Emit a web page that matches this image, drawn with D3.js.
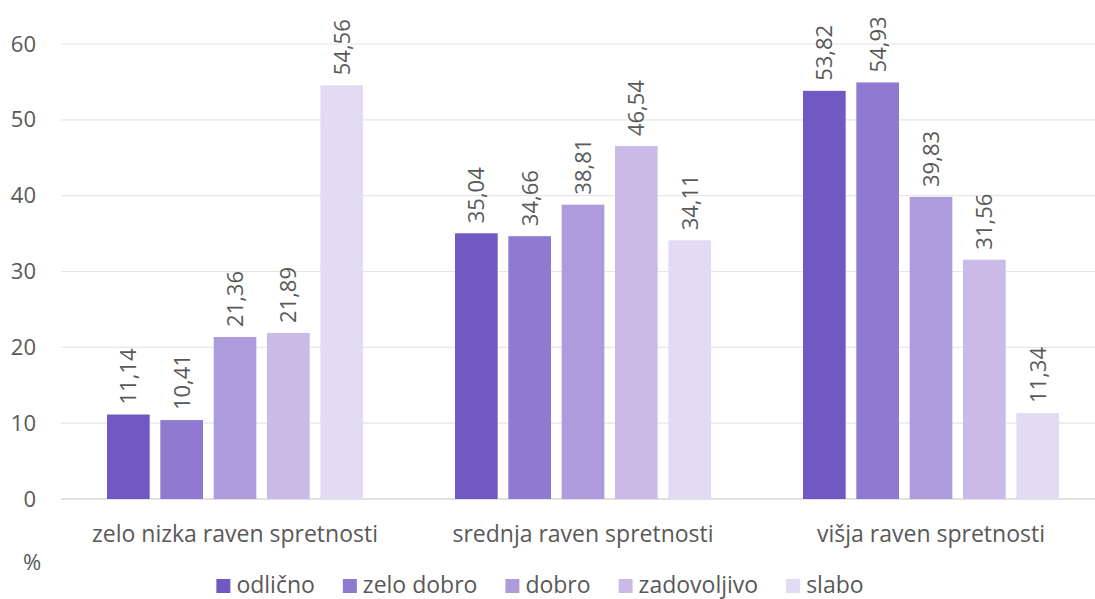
<!DOCTYPE html>
<html><head><meta charset="utf-8">
<script src="https://cdn.jsdelivr.net/npm/d3@7"></script>
<style>body{margin:0;background:#fff;} text{font-family:"Open Sans",sans-serif;}</style>
</head><body><svg id="c" width="1095" height="599"></svg>
<script>
const categories = ["zelo nizka raven spretnosti","srednja raven spretnosti","višja raven spretnosti"];
const seriesNames = ["odlično","zelo dobro","dobro","zadovoljivo","slabo"];
const odlicno = [11.14, 35.04, 53.82];
const zeloDobro = [10.41, 34.66, 54.93];
const dobro = [21.36, 38.81, 39.83];
const zadovoljivo = [21.89, 46.54, 31.56];
const slabo = [54.56, 34.11, 11.34];
const seriesValues = [odlicno, zeloDobro, dobro, zadovoljivo, slabo];
const yTicks = [0,10,20,30,40,50,60];
const colors = ["#7159c3","#9079d1","#ae9bdc","#cbbae8","#e3dbf3"];
const FS = 23, TXT = "#595959";

const svg = d3.select("#c");
const x0 = d3.scaleBand().domain(categories).range([61,1105]).paddingInner(0).paddingOuter(0);
const x1 = d3.scaleBand().domain(seriesNames).range([46, x0.bandwidth()-46]).paddingInner(0.2).paddingOuter(0);
const y = d3.scaleLinear().domain([0,60]).range([499,44]);

// gridlines
svg.append("g").selectAll("line").data(yTicks).join("line")
  .attr("x1",61).attr("x2",1095).attr("y1",d=>y(d)).attr("y2",d=>y(d))
  .attr("stroke",d=>d===0?"#d9d9d9":"#e6e6e6").attr("stroke-width",d=>d===0?1.5:1.2);

// y axis labels
const yAxis = d3.axisLeft(y).tickValues(yTicks).tickSize(0).tickPadding(0);
const ga = svg.append("g").attr("transform","translate(36,0)").call(yAxis);
ga.select(".domain").remove();
ga.selectAll("text").attr("font-size",22).attr("fill",TXT).attr("font-family","Open Sans, sans-serif").attr("text-anchor","end");

// bars
const groups = svg.append("g").selectAll("g").data(categories).join("g")
  .attr("transform",d=>`translate(${x0(d)},0)`);
groups.each(function(cat,ci){
  const g = d3.select(this);
  seriesNames.forEach((s,si)=>{
    const v = seriesValues[si][ci];
    g.append("rect").attr("x",x1(s)).attr("width",x1.bandwidth())
      .attr("y",y(v)).attr("height",y(0)-y(v)).attr("fill",colors[si]);
    const cx = x1(s)+x1.bandwidth()/2;
    g.append("text").attr("transform",`translate(${cx+8},${y(v)-10}) rotate(-90)`)
      .attr("font-size",22).attr("fill",TXT).attr("text-anchor","start")
      .text(v.toFixed(2).replace(".",","));
  });
});

// category labels
svg.append("g").selectAll("text").data(categories).join("text")
  .attr("x",d=>x0(d)+x0.bandwidth()/2).attr("y",542).attr("text-anchor","middle")
  .attr("font-size",FS).attr("fill",TXT).text(d=>d);

svg.append("text").attr("x",23).attr("y",570).attr("font-size",22).attr("fill",TXT).text("%");

// legend
const lg = svg.append("g");
const items = lg.selectAll("g").data(seriesNames).join("g");
items.append("rect").attr("x",0).attr("y",579).attr("width",14).attr("height",14).attr("fill",(d,i)=>colors[i]);
items.append("text").attr("x",20).attr("y",593).attr("font-size",FS).attr("fill",TXT).text(d=>d);
let cur = 0;
items.each(function(){
  const w = d3.select(this).select("text").node().getComputedTextLength();
  d3.select(this).attr("transform",`translate(${cur},0)`);
  cur += 20 + w + 28;
});
const total = cur - 28;
lg.attr("transform",`translate(${540 - total/2},0)`);
</script></body></html>
